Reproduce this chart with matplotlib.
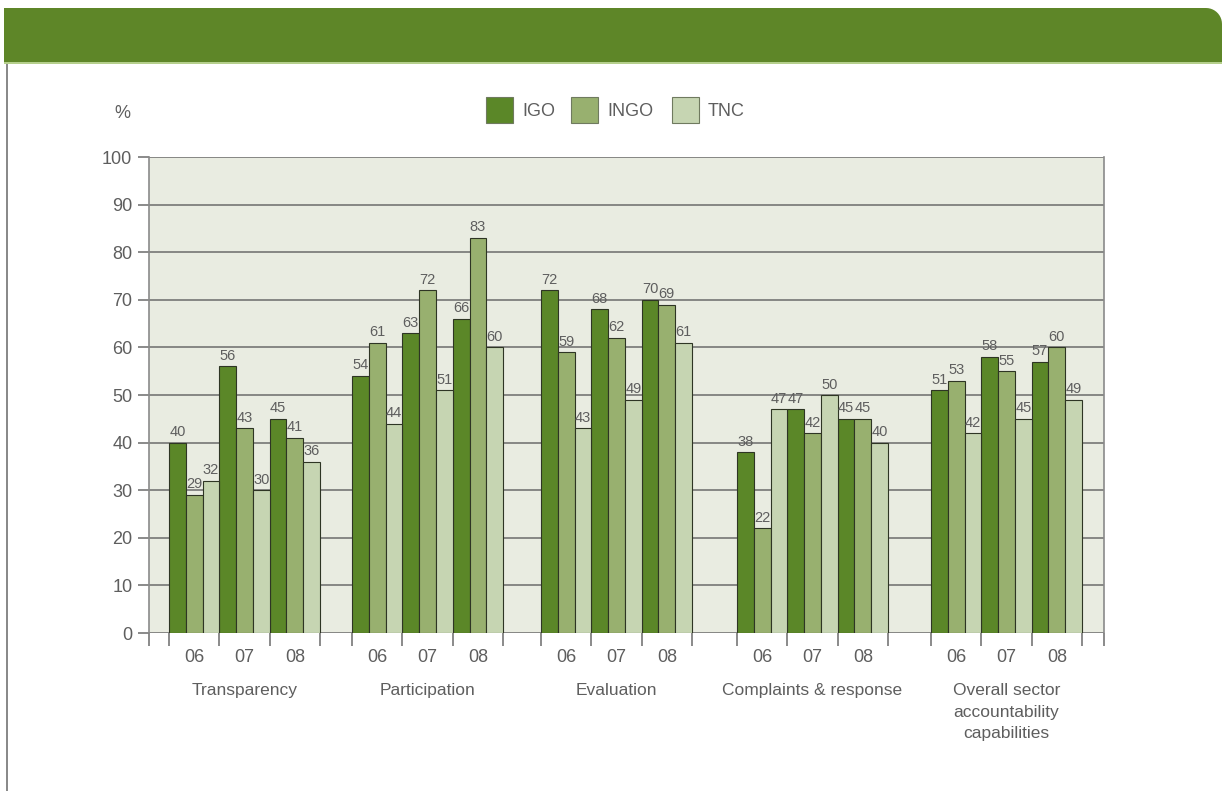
import matplotlib
matplotlib.use('Agg')
import matplotlib.pyplot as plt
import numpy as np
from matplotlib.path import Path
from matplotlib.patches import PathPatch, Rectangle
from matplotlib.transforms import blended_transform_factory

plt.rcParams['font.family'] = ['Liberation Sans', 'DejaVu Sans']

# --- data -------------------------------------------------------------
categories = ['Transparency', 'Participation', 'Evaluation',
              'Complaints & response',
              'Overall sector\naccountability\ncapabilities']
years = ['06', '07', '08']
series = ['IGO', 'INGO', 'TNC']

# one value per (category, year), categories in order, years 06/07/08
igo = [40, 56, 45, 54, 63, 66, 72, 68, 70, 38, 47, 45, 51, 58, 57]
ingo = [29, 43, 41, 61, 72, 83, 59, 62, 69, 22, 42, 45, 53, 55, 60]
tnc = [32, 30, 36, 44, 51, 60, 43, 49, 61, 47, 50, 40, 42, 45, 49]

y_ticks = list(range(0, 101, 10))

# --- style / layout ---------------------------------------------------
colors = ['#5b8728', '#98b06f', '#c6d5b2']
edge = '#2e3524'
text_col = '#5e5e5e'
grid_col = '#6b6b6b'
plot_bg = '#e9ece1'

# left edge of each category block, in bar widths
group_start = [1.19, 12.10, 23.36, 35.04, 46.60]
x_max = 56.91

W, H, DPI = 1222, 791, 100
fig = plt.figure(figsize=(W / DPI, H / DPI), dpi=DPI)


def box(x0, y0, x1, y1):
    # pixel box (origin top-left) -> figure fraction rect
    return [x0 / W, 1 - y1 / H, (x1 - x0) / W, (y1 - y0) / H]


# green header band with a rounded top-right corner
r = 16
top, bot, left, right = H - 8, H - 62, 4, W
verts = [(left, bot), (left, top), (right - r, top)]
for a in np.linspace(90, 0, 12)[1:]:
    t = np.radians(a)
    verts.append((right - r + r * np.cos(t), top - r + r * np.sin(t)))
verts += [(right, bot), (left, bot)]
codes = [Path.MOVETO] + [Path.LINETO] * (len(verts) - 2) + [Path.CLOSEPOLY]
fig.patches.append(PathPatch(Path(verts, codes), facecolor='#5e8628',
                             edgecolor='none', transform=None))
fig.patches.append(Rectangle((left, bot - 2), right - left, 2, transform=None,
                             facecolor='#b5cf8c', edgecolor='none'))
# thin page border on the left
fig.patches.append(Rectangle((6, 0), 2, bot - 2, transform=None,
                             facecolor='#8a8a8a', edgecolor='none'))

ax = fig.add_axes(box(149, 157, 1104, 633))
ax.set_facecolor(plot_bg)
ax.set_xlim(0, x_max)
ax.set_ylim(0, 100)

for yv in y_ticks:
    ax.axhline(yv, color=grid_col, lw=1.1, zorder=1)

values = [igo, ingo, tnc]
for s, vals in enumerate(values):
    for g in range(len(categories)):
        for k in range(len(years)):
            v = vals[g * len(years) + k]
            x = group_start[g] + 3 * k + s + 0.5
            ax.bar(x, v, width=1.0, color=colors[s], edgecolor=edge,
                   linewidth=0.8, zorder=3)
            ax.annotate(str(v), (x, v), xytext=(0, 2.5),
                        textcoords='offset points', ha='center', va='bottom',
                        fontsize=10.5, color=text_col, zorder=4)

# axes frame
for side in ['top', 'bottom']:
    ax.spines[side].set_visible(False)
for side in ['left', 'right']:
    ax.spines[side].set_color('#8a8a8a')
    ax.spines[side].set_linewidth(1.2)

ax.set_yticks(y_ticks)
ax.set_yticklabels([str(v) for v in y_ticks])
ax.tick_params(axis='y', length=8, width=1.1, color=grid_col, pad=4,
               labelsize=13, labelcolor=text_col)

# x ticks at the boundaries of each year block
xt = [0, x_max]
for st in group_start:
    xt += [st + 3 * k for k in range(4)]
ax.set_xticks(sorted(xt))
ax.set_xticklabels([])
ax.tick_params(axis='x', length=9, width=1.1, color=grid_col)

trans = blended_transform_factory(ax.transData, fig.transFigure)
for g, cat in enumerate(categories):
    for k, yr in enumerate(years):
        ax.text(group_start[g] + 3 * k + 1.5, 1 - 657 / H, yr,
                transform=trans, ha='center', va='center', fontsize=13,
                color=text_col)
    ax.text(group_start[g] + 4.5, 1 - 683 / H, cat, transform=trans,
            ha='center', va='top', fontsize=12.5, color=text_col,
            linespacing=1.55)

# legend row
leg_x = [486, 571, 672]
for s, name in enumerate(series):
    fig.patches.append(Rectangle((leg_x[s], H - 123), 27, 26, transform=None,
                                 facecolor=colors[s], edgecolor='#6f7a5f',
                                 linewidth=0.8))
    fig.text((leg_x[s] + 36) / W, 1 - 111 / H, name, ha='left',
             va='center', fontsize=13, color=text_col)

fig.text(122 / W, 1 - 113 / H, '%', ha='center', va='center', fontsize=13,
         color=text_col)

fig.savefig('out.png', dpi=DPI)
